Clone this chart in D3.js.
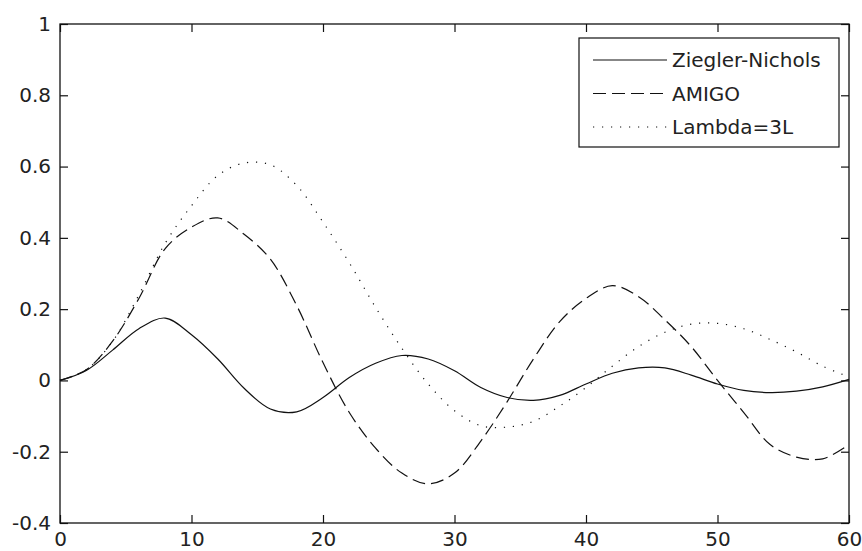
<!DOCTYPE html>
<html>
<head>
<meta charset="utf-8">
<script src="https://cdn.jsdelivr.net/npm/d3@7"></script>
<style>
  body { margin: 0; background: #fff; }
  svg { display: block; }
  .tk text { font-family: "DejaVu Sans", sans-serif; font-size: 20px; fill: #222; }
  .tk line { stroke: #111; stroke-width: 1.2px; }
  .tk path.domain { display: none; }
  .lg text { font-family: "DejaVu Sans", sans-serif; font-size: 20px; fill: #222; }
</style>
</head>
<body>
<div id="chart"></div>
<script>
var W = 862, H = 551,
    margin = {left: 60, right: 13, top: 24, bottom: 28}

// time axis, sampled every 2 s
var t = [0, 2, 4, 6, 8, 10, 12, 14, 16, 18, 20, 22, 24, 26, 28, 30,
         32, 34, 36, 38, 40, 42, 44, 46, 48, 50, 52, 54, 56, 58, 60]

var zieglerNichols = [0, 0.028, 0.085, 0.145, 0.175, 0.128, 0.06, -0.022, -0.08, -0.088, -0.048,
                      0.008, 0.048, 0.07, 0.06, 0.027, -0.02, -0.048, -0.056, -0.042, -0.01,
                      0.02, 0.035, 0.035, 0.015, -0.01, -0.028, -0.034, -0.03, -0.018, 0.003]

var amigo = [0, 0.03, 0.11, 0.23, 0.37, 0.43, 0.456, 0.41, 0.34, 0.21, 0.05,
             -0.09, -0.19, -0.26, -0.29, -0.26, -0.17, -0.06, 0.06, 0.165, 0.23,
             0.266, 0.235, 0.17, 0.095, 0.0, -0.09, -0.18, -0.215, -0.22, -0.18]

var lambda3L = [0, 0.03, 0.11, 0.24, 0.385, 0.49, 0.575, 0.61, 0.605, 0.547, 0.444,
                0.33, 0.205, 0.09, -0.01, -0.085, -0.127, -0.131, -0.115, -0.072, -0.02,
                0.04, 0.095, 0.135, 0.158, 0.16, 0.145, 0.115, 0.08, 0.04, 0.01]

var seriesNames = ["Ziegler-Nichols", "AMIGO", "Lambda=3L"]
var xTicks = [0, 10, 20, 30, 40, 50, 60]
var yTicks = [-0.4, -0.2, 0, 0.2, 0.4, 0.6, 0.8, 1]

var series = [
    {name: seriesNames[0], values: zieglerNichols, dash: null},
    {name: seriesNames[1], values: amigo, dash: "13,6"},
    {name: seriesNames[2], values: lambda3L, dash: "1.2,7.8"}
]

var x = d3.scaleLinear().domain([0, 60]).range([margin.left, W - margin.right]),
    y = d3.scaleLinear().domain([-0.4, 1]).range([H - margin.bottom, margin.top])

var fmt = function(d) { return d === 0 ? "0" : String(+d.toFixed(1)) }

var svg = d3.select("#chart").append("svg")
    .attr("width", W)
    .attr("height", H)

svg.append("rect")
    .attr("width", W).attr("height", H)
    .attr("fill", "#fff")

// ticks point inward, like the matlab box
svg.append("g").attr("class", "tk")
    .attr("transform", "translate(0," + y(-0.4) + ")")
    .call(d3.axisBottom(x).tickValues(xTicks).tickFormat(fmt)
          .tickSizeInner(-8).tickSizeOuter(0).tickPadding(9))

svg.append("g").attr("class", "tk")
    .attr("transform", "translate(" + x(0) + ",0)")
    .call(d3.axisLeft(y).tickValues(yTicks).tickFormat(fmt)
          .tickSizeInner(-8).tickSizeOuter(0).tickPadding(9))

svg.append("g").attr("class", "tk")
    .attr("transform", "translate(0," + y(1) + ")")
    .call(d3.axisTop(x).tickValues(xTicks).tickFormat("")
          .tickSizeInner(-8).tickSizeOuter(0))

svg.append("g").attr("class", "tk")
    .attr("transform", "translate(" + x(60) + ",0)")
    .call(d3.axisRight(y).tickValues(yTicks).tickFormat("")
          .tickSizeInner(-8).tickSizeOuter(0))

svg.append("rect")
    .attr("x", x(0)).attr("y", y(1))
    .attr("width", x(60) - x(0)).attr("height", y(-0.4) - y(1))
    .attr("fill", "none")
    .attr("stroke", "#111")
    .attr("stroke-width", 1.3)

var line = d3.line()
    .x(function(d, i) { return x(t[i]) })
    .y(function(d) { return y(d) })
    .curve(d3.curveCatmullRom.alpha(0.5))

svg.selectAll("path.series")
    .data(series)
    .join("path")
    .attr("class", "series")
    .attr("d", function(d) { return line(d.values) })
    .attr("fill", "none")
    .attr("stroke", "#111")
    .attr("stroke-width", 1.2)
    .attr("stroke-dasharray", function(d) { return d.dash })

// legend
var lg = svg.append("g").attr("class", "lg")

lg.append("rect")
    .attr("x", 579).attr("y", 38)
    .attr("width", 260).attr("height", 109)
    .attr("fill", "#fff")
    .attr("stroke", "#111")
    .attr("stroke-width", 1.2)

var item = lg.selectAll("g.item")
    .data(series)
    .join("g")
    .attr("class", "item")
    .attr("transform", function(d, i) { return "translate(0," + (60 + i * 33.5) + ")" })

item.append("line")
    .attr("x1", 593).attr("x2", 667)
    .attr("stroke", "#111")
    .attr("stroke-width", 1.2)
    .attr("stroke-dasharray", function(d) { return d.dash })

item.append("text")
    .attr("x", 672)
    .attr("dy", "0.36em")
    .text(function(d) { return d.name })
</script>
</body>
</html>
